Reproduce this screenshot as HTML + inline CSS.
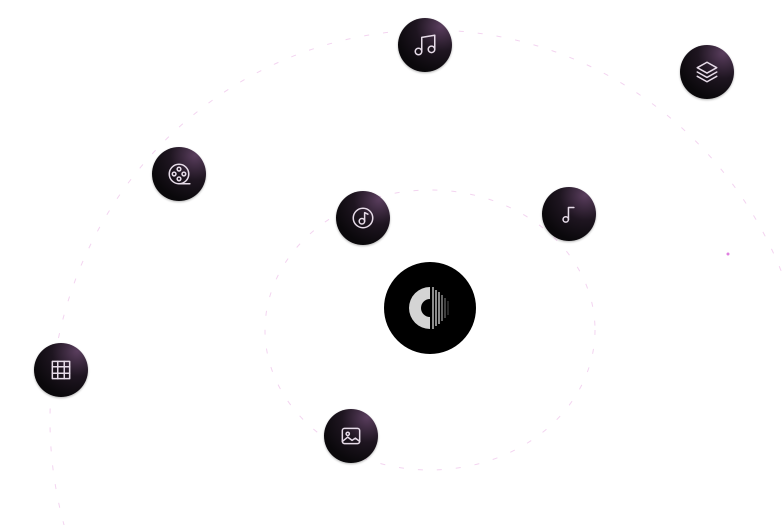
<!DOCTYPE html>
<html><head><style>
html,body{margin:0;padding:0;background:#fff;width:782px;height:525px;overflow:hidden;position:relative;font-family:"Liberation Sans",sans-serif}
.n{position:absolute;width:54px;height:54px;border-radius:50%;background:radial-gradient(circle at 80% 15%,#5a3e5e 0%,#1e1520 40%,#0a080b 75%);box-shadow:0 1px 2px rgba(0,0,0,.3);display:flex;align-items:center;justify-content:center}
.n svg{width:26px;height:26px;fill:none;stroke:#e6dbe8;stroke-width:1.4;stroke-linecap:round;stroke-linejoin:round}
</style></head><body>
<svg width="782" height="525" style="position:absolute;left:0;top:0;overflow:hidden">
<g fill="none" stroke="#f3d4f0" stroke-width="1" stroke-dasharray="5 14">
<ellipse cx="430" cy="330" rx="165" ry="140"/>
<ellipse cx="430" cy="420" rx="380" ry="390"/>
</g>
<circle cx="728" cy="254" r="1.5" fill="#e080e0"/>
</svg>
<div class="n" style="left:398px;top:18px"><svg viewBox="0 0 24 24"><path d="M9 18V5l12-2v13"/><circle cx="6" cy="18" r="3"/><circle cx="18" cy="16" r="3"/></svg></div>
<div class="n" style="left:680px;top:45px"><svg viewBox="0 0 24 24"><path d="M12 3l9 5-9 5-9-5z"/><path d="M3 12l9 5 9-5"/><path d="M3 16l9 5 9-5"/></svg></div>
<div class="n" style="left:152px;top:147px"><svg viewBox="0 0 24 24"><circle cx="12" cy="12" r="9"/><circle cx="12" cy="7.5" r="1.7"/><circle cx="7.5" cy="12" r="1.7"/><circle cx="16.5" cy="12" r="1.7"/><circle cx="12" cy="16.5" r="1.7"/><path d="M12 21h10"/></svg></div>
<div class="n" style="left:336px;top:191px"><svg viewBox="0 0 24 24"><circle cx="12" cy="12" r="9"/><circle cx="11" cy="15" r="2.5"/><path d="M13.5 15V7l3 1.5"/></svg></div>
<div class="n" style="left:542px;top:187px"><svg viewBox="0 0 24 24"><circle cx="9" cy="17" r="2.5"/><path d="M11.5 17V6h5"/></svg></div>
<div class="n" style="left:34px;top:343px"><svg viewBox="0 0 24 24"><rect x="4" y="4" width="16" height="16"/><path d="M9 4v16M15 4v16M4 9h16M4 15h16"/></svg></div>
<div class="n" style="left:324px;top:409px"><svg viewBox="0 0 24 24"><rect x="4" y="5" width="16" height="14" rx="2"/><circle cx="9" cy="10" r="1.5"/><path d="M4 17l5-4 4 3 3-2 4 3"/></svg></div>
<div style="position:absolute;left:384px;top:262px;width:92px;height:92px;border-radius:50%;background:#000"></div>
<svg width="92" height="92" style="position:absolute;left:384px;top:262px" viewBox="0 0 92 92">
<path d="M46 25 A21 21 0 0 0 46 67 L46 55 A9 9 0 0 1 46 37 Z" fill="#d4d4d4"/>
<g stroke="#bbb" stroke-width="1.5">
<line x1="49" y1="25" x2="49" y2="67"/><line x1="52" y1="28" x2="52" y2="64"/><line x1="55" y1="30" x2="55" y2="62"/><line x1="58" y1="33" x2="58" y2="59" stroke="#888"/><line x1="61" y1="36" x2="61" y2="56" stroke="#555"/><line x1="64" y1="39" x2="64" y2="53" stroke="#333"/>
</g>
</svg>
</body></html>
